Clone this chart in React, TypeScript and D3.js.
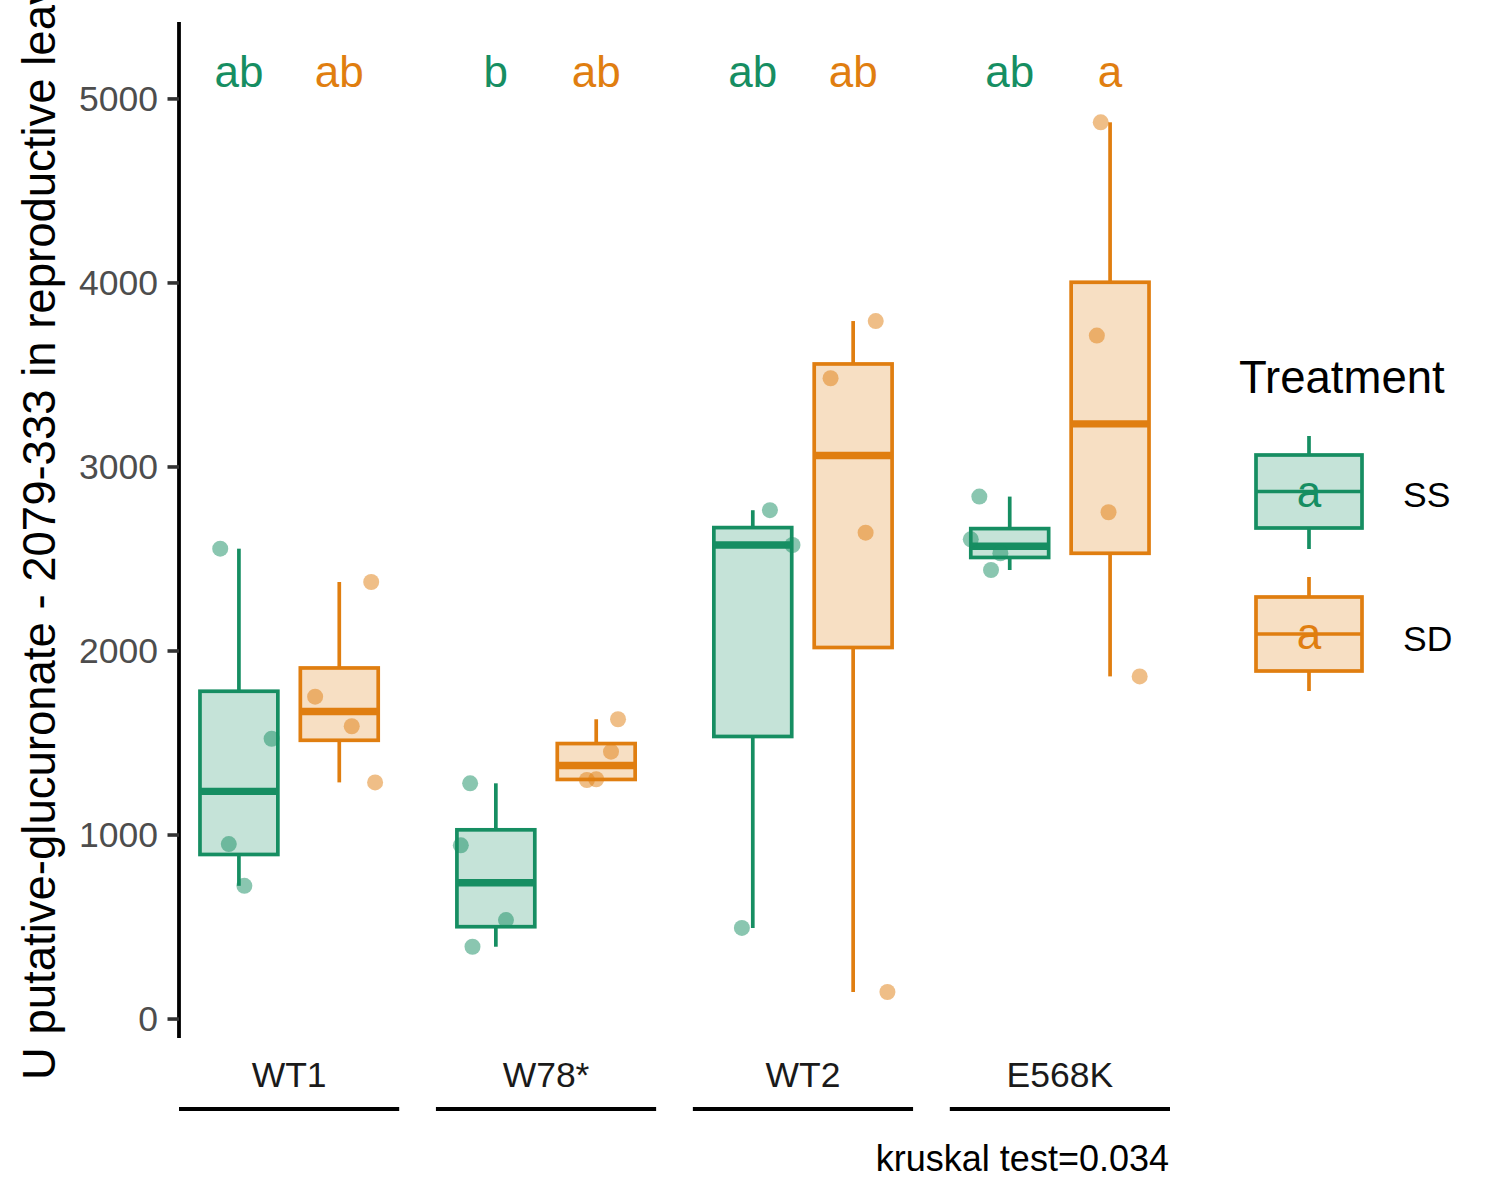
import React from 'react';
import * as d3 from 'd3';

// genotypes along x, two treatments dodged inside each
const genotypes = ['WT1', 'W78*', 'WT2', 'E568K'];
const treatments = ['SS', 'SD'];

const ssValues = [
  [2556, 1523, 951, 724],
  [1281, 944, 538, 393],
  [2765, 2576, 495],
  [2839, 2607, 2531, 2440],
];
const sdValues = [
  [2375, 1752, 1591, 1286],
  [1629, 1453, 1299, 1303],
  [3793, 3482, 2643, 147],
  [3714, 4873, 2754, 1862],
];

// horizontal jitter of each point, as a fraction of the box width
const ssJitter = [
  [-0.24, 0.42, -0.13, 0.07],
  [-0.33, -0.45, 0.13, -0.3],
  [0.22, 0.51, -0.14],
  [-0.39, -0.5, -0.12, -0.24],
];
const sdJitter = [
  [0.41, -0.31, 0.16, 0.46],
  [0.28, 0.19, -0.12, 0.0],
  [0.29, -0.29, 0.16, 0.44],
  [-0.17, -0.12, -0.02, 0.38],
];

// compact letter display
const ssLetters = ['ab', 'b', 'ab', 'ab'];
const sdLetters = ['ab', 'ab', 'ab', 'a'];
const letterY = 5065;

const yTicks = [0, 1000, 2000, 3000, 4000, 5000];
const yTitle = 'U putative-glucuronate - 2079-333 in reproductive leaves';
const caption = 'kruskal test=0.034';

const colors: Record<string, string> = { SS: '#168E62', SD: '#E07E10' };
const font = '"Liberation Sans", Arial, sans-serif';

interface Stats {
  q1: number;
  med: number;
  q3: number;
  lo: number;
  hi: number;
}

function boxStats(vals: number[]): Stats {
  const s = [...vals].sort(d3.ascending);
  const q1 = d3.quantileSorted(s, 0.25) as number;
  const med = d3.quantileSorted(s, 0.5) as number;
  const q3 = d3.quantileSorted(s, 0.75) as number;
  const iqr = q3 - q1;
  const lo = d3.min(s.filter(v => v >= q1 - 1.5 * iqr)) as number;
  const hi = d3.max(s.filter(v => v <= q3 + 1.5 * iqr)) as number;
  return { q1, med, q3, lo, hi };
}

const App: React.FC = () => {
  const x = d3.scaleBand<string>().domain(genotypes).range([179, 1170]).paddingInner(0.143);
  const xi = d3
    .scaleBand<string>()
    .domain(treatments)
    .range([0, x.bandwidth()])
    .paddingInner(0.224)
    .paddingOuter(0.209);
  const y = d3.scaleLinear().domain([-103, 5418]).range([1038, 22]);
  const bw = xi.bandwidth();

  const series = [
    { key: 'SS', values: ssValues, jitter: ssJitter, letters: ssLetters },
    { key: 'SD', values: sdValues, jitter: sdJitter, letters: sdLetters },
  ];

  const boxes = series.flatMap(s =>
    genotypes.map((g, i) => {
      const left = (x(g) as number) + (xi(s.key) as number);
      return {
        key: s.key,
        g,
        left,
        cx: left + bw / 2,
        st: boxStats(s.values[i]),
        pts: s.values[i].map((v, j) => ({ v, dx: s.jitter[i][j] * bw })),
        letter: s.letters[i],
      };
    })
  );

  const legendKeys = [
    { key: 'SS', top: 436, boxTop: 455, boxBot: 528, bot: 549, label: 507 },
    { key: 'SD', top: 577, boxTop: 597, boxBot: 671, bot: 691, label: 651 },
  ];

  return (
    <>
      <style>{`body{margin:0}`}</style>
      <svg width={1500} height={1200} style={{ display: 'block', fontFamily: font }}>
        <rect width={1500} height={1200} fill="#fff" />

        {/* y axis */}
        <line x1={179} x2={179} y1={22} y2={1038} stroke="#000" strokeWidth={3.8} />
        {yTicks.map(t => (
          <g key={t}>
            <line x1={167.5} x2={179} y1={y(t)} y2={y(t)} stroke="#333" strokeWidth={3.6} />
            <text
              x={158}
              y={y(t)}
              dy="0.35em"
              textAnchor="end"
              fontSize={35.5}
              fill="#4D4D4D"
            >
              {t}
            </text>
          </g>
        ))}
        <text
          transform="translate(55,1080) rotate(-90)"
          textAnchor="start"
          fontSize={45.5}
          fill="#000"
        >
          {yTitle}
        </text>

        {/* boxes */}
        {boxes.map(b => {
          const c = colors[b.key];
          return (
            <g key={b.key + b.g}>
              <line x1={b.cx} x2={b.cx} y1={y(b.st.hi)} y2={y(b.st.q3)} stroke={c} strokeWidth={3.7} />
              <line x1={b.cx} x2={b.cx} y1={y(b.st.q1)} y2={y(b.st.lo)} stroke={c} strokeWidth={3.7} />
              <rect
                x={b.left}
                y={y(b.st.q3)}
                width={bw}
                height={y(b.st.q1) - y(b.st.q3)}
                fill={c}
                fillOpacity={0.25}
                stroke={c}
                strokeWidth={3.7}
              />
              <line
                x1={b.left}
                x2={b.left + bw}
                y1={y(b.st.med)}
                y2={y(b.st.med)}
                stroke={c}
                strokeWidth={7.4}
              />
            </g>
          );
        })}

        {/* jittered points */}
        {boxes.map(b =>
          b.pts.map((p, j) => (
            <circle
              key={b.key + b.g + j}
              cx={b.cx + p.dx}
              cy={y(p.v)}
              r={8}
              fill={colors[b.key]}
              fillOpacity={0.5}
            />
          ))
        )}

        {/* letters */}
        {boxes.map(b => (
          <text
            key={'l' + b.key + b.g}
            x={b.cx}
            y={y(letterY)}
            textAnchor="middle"
            fontSize={44}
            fill={colors[b.key]}
          >
            {b.letter}
          </text>
        ))}

        {/* genotype strips */}
        {genotypes.map(g => (
          <g key={g}>
            <text
              x={(x(g) as number) + x.bandwidth() / 2}
              y={1087}
              textAnchor="middle"
              fontSize={35.5}
              fill="#1A1A1A"
            >
              {g}
            </text>
            <line
              x1={x(g) as number}
              x2={(x(g) as number) + x.bandwidth()}
              y1={1109}
              y2={1109}
              stroke="#000"
              strokeWidth={3.8}
            />
          </g>
        ))}

        <text x={1169} y={1171} textAnchor="end" fontSize={36} fill="#000">
          {caption}
        </text>

        {/* legend */}
        <text x={1239} y={393} fontSize={45.5} fill="#000">
          Treatment
        </text>
        {legendKeys.map(k => {
          const c = colors[k.key];
          const mid = (k.boxTop + k.boxBot) / 2;
          return (
            <g key={k.key}>
              <line x1={1309} x2={1309} y1={k.top} y2={k.bot} stroke={c} strokeWidth={3.7} />
              <rect
                x={1256}
                y={k.boxTop}
                width={106}
                height={k.boxBot - k.boxTop}
                fill="#fff"
              />
              <rect
                x={1256}
                y={k.boxTop}
                width={106}
                height={k.boxBot - k.boxTop}
                fill={c}
                fillOpacity={0.25}
                stroke={c}
                strokeWidth={3.7}
              />
              <line x1={1256} x2={1362} y1={mid} y2={mid} stroke={c} strokeWidth={3.7} />
              <text x={1309} y={mid + 15} textAnchor="middle" fontSize={44} fill={c}>
                a
              </text>
              <text x={1403} y={k.label} fontSize={35.5} fill="#000">
                {k.key}
              </text>
            </g>
          );
        })}
      </svg>
    </>
  );
};

export default App;
